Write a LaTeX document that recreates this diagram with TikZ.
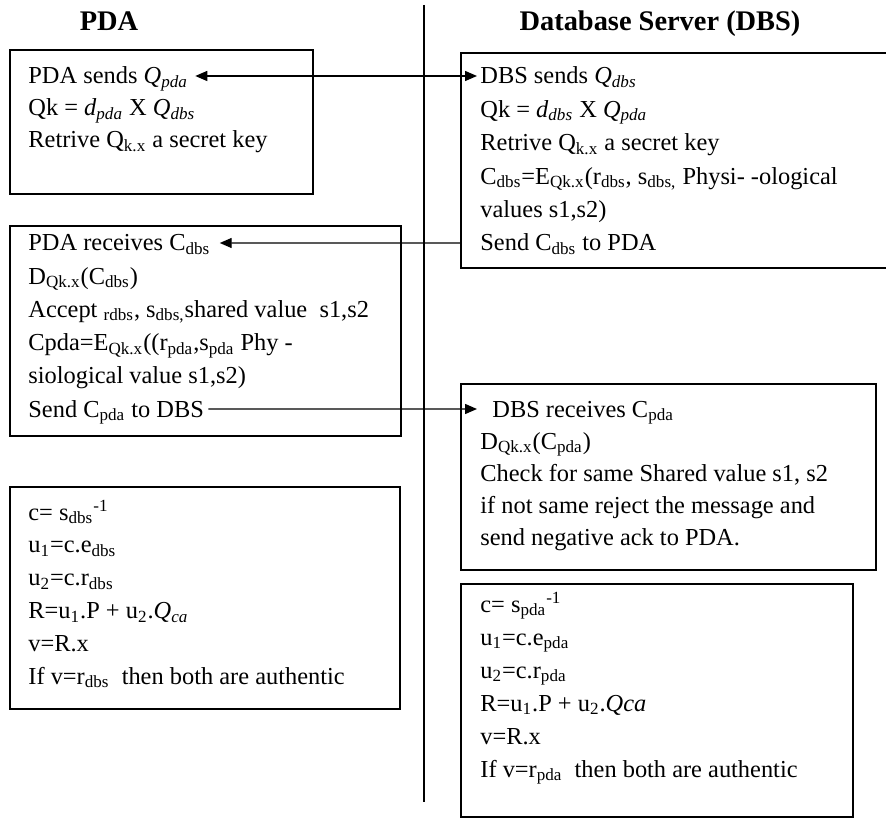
\documentclass[tikz,border=0pt]{standalone}
\usepackage{fontspec}
\setmainfont{Liberation Serif}
\usepackage{tikz}
\usetikzlibrary{arrows.meta,positioning}

\newcommand{\lo}[1]{\textsubscript{#1}}
\newcommand{\hi}[1]{\textsuperscript{#1}}
\newcommand{\iQ}[1]{\textit{Q}\textsubscript{\textit{#1}}}

\begin{document}
\begin{tikzpicture}[
    x=0.5pt, y=-0.5pt,
    frame/.style={draw, line width=0.9pt, anchor=north west, inner sep=0pt},
    txt/.style={anchor=base west, inner sep=0pt, font=\fontsize{12.2}{14}\selectfont},
    head/.style={anchor=base, inner sep=0pt, font=\fontsize{14.2}{16}\selectfont\bfseries},
    msg/.style={line width=0.7pt},
    >={Triangle[length=6pt,width=5pt]}
  ]
  \useasboundingbox (0,0) rectangle (886,817);

  % headings and divider
  \node[head] (pdahead) at (109,31) {PDA};
  \node[head] (dbshead) at (660,31) {Database Server (DBS)};
  \draw[line width=0.9pt] (424,5) -- (424,802);

  % frames
  \node[frame, minimum width=151.5pt, minimum height=72pt] (pdaone) at (9,49) {};
  \node[frame, minimum width=215pt, minimum height=107.5pt] (dbsone) at (460,52) {};
  \node[frame, minimum width=195.5pt, minimum height=105pt] (pdatwo) at (9,225) {};
  \node[frame, minimum width=207.5pt, minimum height=93pt] (dbstwo) at (460,383) {};
  \node[frame, minimum width=195pt, minimum height=111pt] (pdathree) at (9,486) {};
  \node[frame, minimum width=196pt, minimum height=116.5pt] (dbsthree) at (460,583) {};

  % key agreement
  \foreach \row [count=\k] in {
      {PDA sends \iQ{pda}},
      {Qk = \textit{d}\lo{\textit{pda}} X \iQ{dbs}},
      {Retrive Q\lo{k.x} a secret key}}
    \node[txt] (pdaone-\k) at (28,{84+32*(\k-1)}) {\row};
  \foreach \row [count=\k] in {
      {DBS sends \iQ{dbs}},
      {Qk = \textit{d}\lo{\textit{dbs}} X \iQ{pda}},
      {Retrive Q\lo{k.x} a secret key},
      {C\lo{dbs}=E\lo{Qk.x}(r\lo{dbs}, s\lo{dbs,} Physi- -ological},
      {values s1,s2)},
      {Send C\lo{dbs} to PDA}}
    \node[txt] (dbsone-\k) at (480,{84+33.4*(\k-1)}) {\row};

  % exchange of ciphertexts
  \foreach \row [count=\k] in {
      {PDA receives C\lo{dbs}},
      {D\lo{Qk.x}(C\lo{dbs})},
      {Accept \lo{rdbs}, s\lo{dbs,}shared value\ \ s1,s2},
      {Cpda=E\lo{Qk.x}((r\lo{pda},s\lo{pda} Phy -},
      {siological value s1,s2)},
      {Send C\lo{pda} to DBS}}
    \node[txt] (pdatwo-\k) at (28,{251+33.2*(\k-1)}) {\row};
  \foreach \row [count=\k] in {
      {\hspace*{6pt}DBS receives C\lo{pda}},
      {D\lo{Qk.x}(C\lo{pda})},
      {Check for same Shared value s1, s2},
      {if not same reject the message and},
      {send negative ack to PDA.}}
    \node[txt] (dbstwo-\k) at (480,{417+32.2*(\k-1)}) {\row};

  % signature check
  \foreach \row [count=\k] in {
      {c= s\lo{dbs}\hi{-1}},
      {u\lo{1}=c.e\lo{dbs}},
      {u\lo{2}=c.r\lo{dbs}},
      {R=u\lo{1}.P + u\lo{2}.\iQ{ca}},
      {v=R.x},
      {If v=r\lo{dbs}\ \ then both are authentic}}
    \node[txt] (pdathree-\k) at (28,{520+32.8*(\k-1)}) {\row};
  \foreach \row [count=\k] in {
      {c= s\lo{pda}\hi{-1}},
      {u\lo{1}=c.e\lo{pda}},
      {u\lo{2}=c.r\lo{pda}},
      {R=u\lo{1}.P + u\lo{2}.\textit{Qca}},
      {v=R.x},
      {If v=r\lo{pda}\ \ then both are authentic}}
    \node[txt] (dbsthree-\k) at (480,{612+33*(\k-1)}) {\row};

  % messages
  \draw[msg,<->] ([xshift=3.5pt,yshift=4pt]pdaone-1.base east) -- ([xshift=-1.5pt,yshift=4pt]dbsone-1.base west);
  \draw[msg,->] ([xshift=-10pt,yshift=4pt]dbsone-6.base west) -- ([xshift=4.5pt,yshift=4pt]pdatwo-1.base east);
  \draw[msg,->] ([xshift=2pt,yshift=4pt]pdatwo-6.base east) -- ([xshift=-1.5pt,yshift=4pt]dbstwo-1.base west);
\end{tikzpicture}
\end{document}
